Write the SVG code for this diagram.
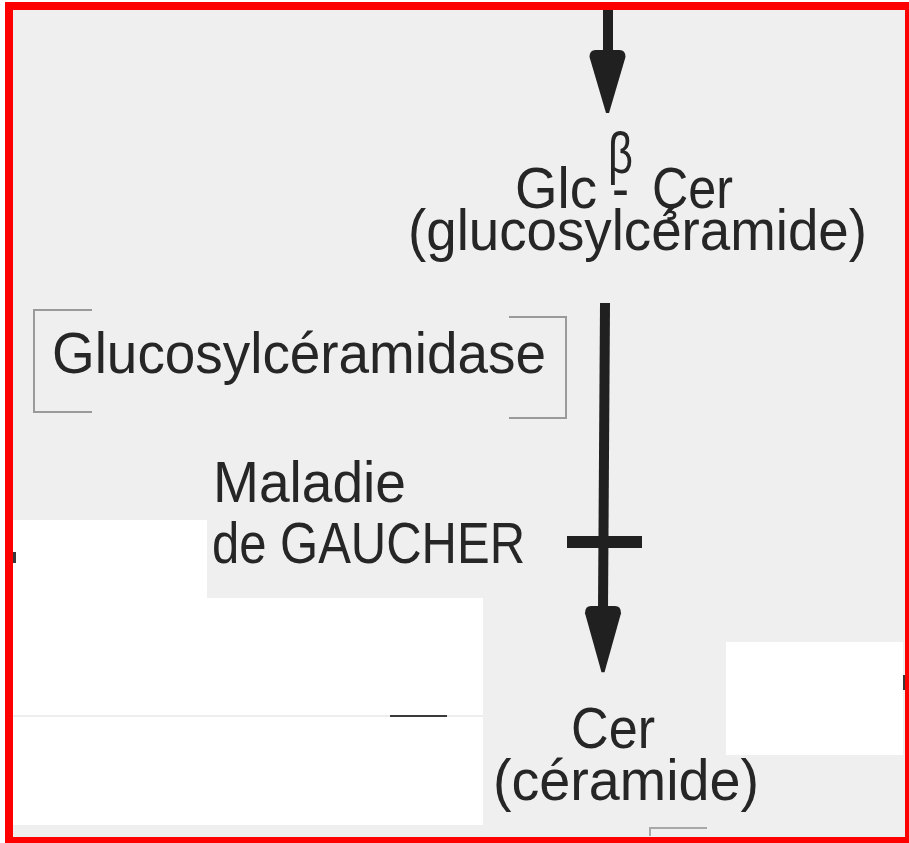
<svg xmlns="http://www.w3.org/2000/svg" width="909" height="843" viewBox="0 0 909 843">
  <defs>
    <style>
      .t { font-family: "Liberation Sans", Arial, sans-serif; fill: #262626; font-size: 58px; }
      .ink { fill: #202020; }
      .bracket { fill: none; stroke: #9a9a9a; stroke-width: 2; }
      .mask { fill: #ffffff; }
    </style>
    <path id="head" d="M-18,7 Q-18,0 -12,0 L12,0 Q18,0 18,7 L1.5,63 L-1.5,63 Z"/>
  </defs>

  <!-- paper background -->
  <rect x="0" y="0" width="909" height="843" fill="#ffffff"/>
  <rect x="9" y="6" width="900" height="835" fill="#efefef"/>

  <!-- white masking patches of the scan -->
  <rect class="mask" x="13" y="520" width="194" height="80"/>
  <rect class="mask" x="13" y="598" width="470" height="227"/>
  <line x1="13" y1="716" x2="483" y2="716" stroke="#dcdcdc" stroke-width="1"/>
  <rect x="390" y="715" width="57" height="2" fill="#3a3a3a"/>
  <rect class="mask" x="726" y="642" width="177" height="113"/>
  <rect x="13" y="552" width="3" height="11" fill="#3a3a3a"/>
  <rect x="903" y="675" width="2" height="15" fill="#3a3a3a"/>
  <path d="M650,836 V828 H707" fill="none" stroke="#a8a8a8" stroke-width="2"/>

  <!-- connectors -->
  <g id="connectors" class="ink">
    <rect x="603" y="10" width="10" height="42"/>
    <use href="#head" transform="translate(607.5,50)"/>
    <path d="M600,303 L610,303 L608,610 L598,610 Z"/>
    <rect x="567" y="536" width="75" height="12"/>
    <use href="#head" transform="translate(603,606) scale(1,1.05)"/>
  </g>

  <!-- nodes -->
  <g id="glc-cer">
    <text class="t" x="515" y="208" textLength="82" lengthAdjust="spacingAndGlyphs">Glc</text>
    <text class="t" x="608" y="173" textLength="25" lengthAdjust="spacingAndGlyphs">β</text>
    <text class="t" x="612" y="208" textLength="17" lengthAdjust="spacingAndGlyphs">-</text>
    <text class="t" x="652" y="208" textLength="81" lengthAdjust="spacingAndGlyphs">Çer</text>
    <text class="t" x="408" y="250" textLength="459" lengthAdjust="spacingAndGlyphs">(glucosylcéramide)</text>
  </g>

  <g id="enzyme">
    <path class="bracket" d="M92,310 H34 V412 H92"/>
    <path class="bracket" d="M509,317 H566 V418 H509"/>
    <text class="t" x="52" y="373" textLength="494" lengthAdjust="spacingAndGlyphs">Glucosylcéramidase</text>
  </g>

  <g id="maladie">
    <text class="t" x="213" y="502" textLength="193" lengthAdjust="spacingAndGlyphs">Maladie</text>
    <text class="t" x="212" y="563" textLength="313" lengthAdjust="spacingAndGlyphs">de GAUCHER</text>
  </g>

  <g id="cer">
    <text class="t" x="571" y="748" textLength="84" lengthAdjust="spacingAndGlyphs">Cer</text>
    <text class="t" x="493" y="800" textLength="266" lengthAdjust="spacingAndGlyphs">(céramide)</text>
  </g>

  <!-- red frame -->
  <rect x="9" y="6" width="900" height="835" fill="none" stroke="#ff0000" stroke-width="8"/>
</svg>
